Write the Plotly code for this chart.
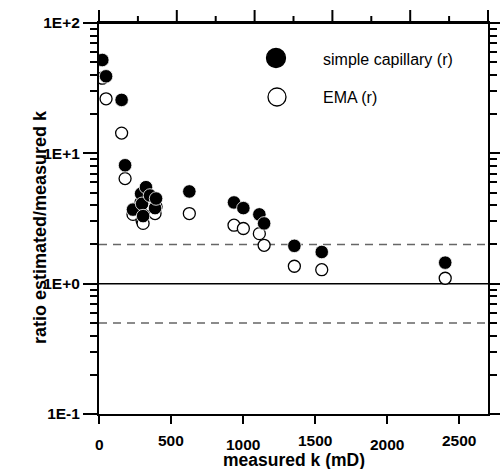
import plotly.graph_objects as go

# ---- data ----
k_measured = [23, 49, 157, 181, 236, 292, 299, 306, 326, 354, 389, 396,
              627, 937, 1002, 1113, 1146, 1356, 1546, 2403]
ratio_simple = [52, 39, 25.7, 8.1, 3.7, 4.9, 4.1, 3.3, 5.5, 4.75, 3.8, 4.5,
                5.1, 4.2, 3.8, 3.4, 2.9, 1.95, 1.75, 1.45]
ratio_ema = [37.7, 26.2, 14.3, 6.4, 3.4, 4.2, 3.05, 2.9, 4.6, 4.0, 3.45, 3.9,
             3.45, 2.81, 2.65, 2.42, 1.97, 1.36, 1.28, 1.1]

series_names = ["simple capillary (r)", "EMA (r)"]
y_tick_vals = [0.1, 1, 10, 100]
y_tick_text = ["1E-1", "1E+0", "1E+1", "1E+2"]
y_minor_vals = [m * 10 ** e for e in (-1, 0, 1) for m in range(2, 10)]
x_tick_vals = [0, 500, 1000, 1500, 2000, 2500]
x_tick_text = ["0", "500", "1000", "1500", "2000", "2500"]
top_major_vals = [0, 540, 1080, 1620, 2160, 2700]
top_minor_vals = [270, 810, 1350, 1890, 2430]
ref_solid = [1]
ref_dashed = [0.5, 2]

FONT = "Arial, 'Liberation Sans', sans-serif"
X_RANGE = [0, 2700]
Y_RANGE_LOG = [-1, 2]

fig = go.Figure()
fig.add_trace(go.Scatter(
    x=k_measured, y=ratio_ema, mode="markers", name=series_names[1],
    marker=dict(size=12, color="white", line=dict(color="black", width=1.3)),
))
fig.add_trace(go.Scatter(
    x=k_measured, y=ratio_simple, mode="markers", name=series_names[0],
    marker=dict(size=13.5, color="black", line=dict(color="white", width=0.8)),
))

pw, ph = 389.0, 391.0
shapes = []
for v in ref_solid:
    shapes.append(dict(type="line", xref="paper", yref="y", x0=0, x1=1, y0=v, y1=v,
                       line=dict(color="black", width=1.5), layer="below"))
for v in ref_dashed:
    shapes.append(dict(type="line", xref="paper", yref="y", x0=0, x1=1, y0=v, y1=v,
                       line=dict(color="#666666", width=1.5, dash="8px,6px"), layer="below"))

# top frame line and its own tick marks (axis decoration, in paper units)
def to_paper(v):
    return (v - X_RANGE[0]) / (X_RANGE[1] - X_RANGE[0])
shapes.append(dict(type="line", xref="paper", yref="paper", x0=0, x1=1,
                   y0=1, y1=1, line=dict(color="black", width=2)))
for v in top_major_vals:
    shapes.append(dict(type="line", xref="paper", yref="paper",
                       x0=to_paper(v), x1=to_paper(v),
                       y0=1, y1=1 + 13 / ph, line=dict(color="black", width=2)))
for v in top_minor_vals:
    shapes.append(dict(type="line", xref="paper", yref="paper",
                       x0=to_paper(v), x1=to_paper(v),
                       y0=1, y1=1 + 7 / ph, line=dict(color="black", width=2)))

# legend drawn by hand (circles + text)
def circ(cx, cy, r, fill):
    return dict(type="circle", xref="paper", yref="paper",
                x0=(cx - 99 - r) / pw, x1=(cx - 99 + r) / pw,
                y0=(414 - cy - r) / ph, y1=(414 - cy + r) / ph,
                fillcolor=fill, line=dict(color="black", width=1.3))
shapes.append(circ(276, 58, 9.5, "black"))
shapes.append(circ(277, 97, 9, "white"))

annotations = [
    dict(text=series_names[0], xref="paper", yref="paper",
         x=(321 - 99) / pw, y=(414 - 59) / ph, xanchor="left", yanchor="middle",
         showarrow=False, font=dict(family=FONT, size=16, color="black")),
    dict(text=series_names[1], xref="paper", yref="paper",
         x=(321 - 99) / pw, y=(414 - 98) / ph, xanchor="left", yanchor="middle",
         showarrow=False, font=dict(family=FONT, size=16, color="black")),
    dict(text="<b>measured k (mD)</b>", xref="paper", yref="paper", x=0.5, y=0,
         yanchor="middle", yshift=-46, showarrow=False,
         font=dict(family=FONT, size=17.5, color="black")),
    dict(text="<b>ratio estimated/measured k</b>", xref="paper", yref="paper",
         x=(40 - 99) / pw, y=(414 - 227) / ph, xanchor="center", yanchor="middle",
         textangle=-90, showarrow=False,
         font=dict(family=FONT, size=18, color="black")),
]
for i, (v, t) in enumerate(zip(x_tick_vals, x_tick_text)):
    annotations.append(dict(text="<b>%s</b>" % t, xref="x", yref="paper", x=v, y=0,
                            yanchor="top", yshift=(-16 if i % 2 else -20),
                            showarrow=False,
                            font=dict(family=FONT, size=15.5, color="black")))

fig.update_layout(
    width=500, height=469, autosize=False,
    margin=dict(l=99, r=12, t=23, b=55),
    paper_bgcolor="white", plot_bgcolor="white",
    showlegend=False,
    shapes=shapes, annotations=annotations,
    xaxis=dict(range=X_RANGE, showgrid=False, zeroline=False, automargin=False,
               showline=True, mirror=True, linecolor="black", linewidth=2,
               ticks="outside", tickvals=x_tick_vals, ticklen=8, tickwidth=2,
               tickcolor="black", showticklabels=False),
    yaxis=dict(type="log", range=Y_RANGE_LOG,
               showgrid=False, zeroline=False, automargin=False,
               showline=True, linecolor="black", linewidth=2, mirror="ticks",
               ticks="outside", tickvals=y_tick_vals, ticktext=y_tick_text,
               ticklen=14, tickwidth=2, tickcolor="black",
               tickfont=dict(family=FONT, size=15.5, color="black", weight="bold"),
               minor=dict(tickvals=y_minor_vals, ticks="outside", ticklen=7,
                          tickwidth=2, tickcolor="black", showgrid=False)),
)

fig.write_html("out.html",
               config={"displayModeBar": False, "responsive": False},
               post_script="document.body.style.margin='0';document.body.style.padding='0';document.body.style.overflow='hidden';")
